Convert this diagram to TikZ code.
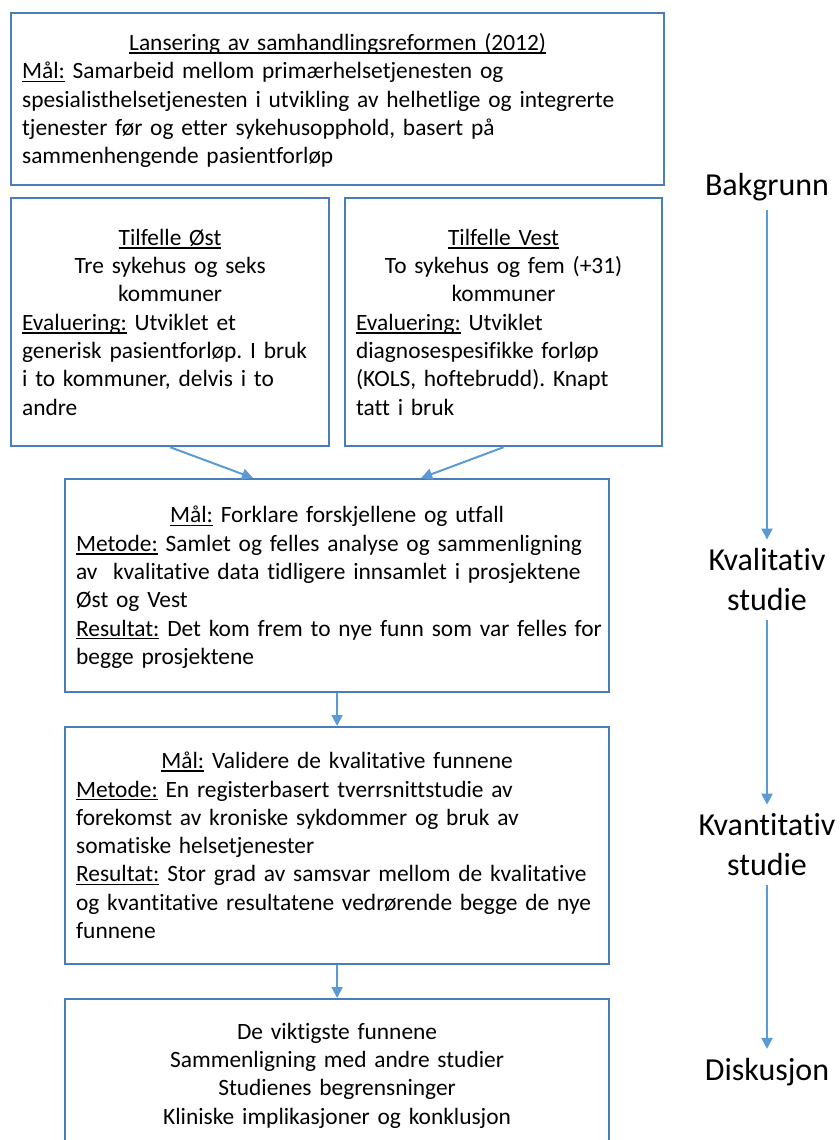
\documentclass[tikz,border=0pt]{standalone}
\usepackage{fontspec}
\setmainfont{Carlito}[Ligatures=NoCommon]
\usepackage{xcolor}
\usepackage{tikz}
\usetikzlibrary{arrows.meta}

\definecolor{boxblue}{HTML}{4A7EBB}
\definecolor{arrblue}{HTML}{5B9BD5}
\setlength{\parindent}{0pt}
\frenchspacing
\newcommand{\ulm}[1]{\leavevmode\sbox0{#1}\rlap{\rule[-3.4pt]{\wd0}{1.7pt}}\usebox0}
\newcommand{\venstre}{\raggedright\leftskip=11pt\relax}
\newcommand{\slutt}{\rule[-8pt]{0pt}{8pt}\par}

\begin{document}
\begin{tikzpicture}[x=1pt, y=-1pt,
	boks/.style={draw=boxblue, line width=2.2pt, fill=white, rectangle, anchor=north west,
		inner sep=0pt, font=\fontsize{23.4}{28.3}\selectfont,
		execute at begin node={\rule{0pt}{24pt}}},
	fase/.style={align=center, inner sep=9pt, font=\fontsize{32}{40}\selectfont},
	pil/.style={draw=arrblue, line width=2pt, -{Triangle[length=11pt, width=11pt]}}]
	\clip (0,0) rectangle (839,1140);

	% boksene til venstre
	\node[boks, minimum width=653pt, minimum height=172pt, text width=653pt] (reform) at (10,12)
		{\centering\ulm{Lansering av samhandlingsreformen (2012)}\par
		\venstre\ulm{Mål:} Samarbeid mellom primærhelsetjenesten og\\
		spesialisthelsetjenesten i utvikling av helhetlige og integrerte\\
		tjenester før og etter sykehusopphold, basert på\\
		sammenhengende pasientforløp\slutt};
	\node[boks, minimum width=318pt, minimum height=248pt, text width=318pt] (ost) at (10,197)
		{\centering\ulm{Tilfelle Øst}\\ Tre sykehus og seks\\ kommuner\par
		\venstre\ulm{Evaluering:} Utviklet et\\
		generisk pasientforløp. I bruk\\
		i to kommuner, delvis i to\\
		andre\slutt};
	\node[boks, minimum width=317pt, minimum height=248pt, text width=317pt] (vest) at (344,197)
		{\centering\ulm{Tilfelle Vest}\\ To sykehus og fem (+31)\\ kommuner\par
		\venstre\ulm{Evaluering:} Utviklet\\
		diagnosespesifikke forløp\\
		(KOLS, hoftebrudd). Knapt\\
		tatt i bruk\slutt};
	\node[boks, minimum width=544pt, minimum height=213pt, text width=544pt] (kval) at (64,478)
		{\centering\ulm{Mål:} Forklare forskjellene og utfall\par
		\venstre\ulm{Metode:} Samlet og felles analyse og sammenligning\\
		av\ \ kvalitative data tidligere innsamlet i prosjektene\\
		Øst og Vest\\
		\ulm{Resultat:} Det kom frem to nye funn som var felles for\\
		begge prosjektene\slutt};
	\node[boks, minimum width=544pt, minimum height=237pt, text width=544pt] (kvant) at (64,726)
		{\centering\ulm{Mål:} Validere de kvalitative funnene\par
		\venstre\ulm{Metode:} En registerbasert tverrsnittstudie av\\
		forekomst av kroniske sykdommer og bruk av\\
		somatiske helsetjenester\\
		\ulm{Resultat:} Stor grad av samsvar mellom de kvalitative\\
		og kvantitative resultatene vedrørende begge de nye\\
		funnene\slutt};
	\node[boks, minimum width=544pt, minimum height=149pt, text width=544pt] (disk) at (64,998)
		{\centering De viktigste funnene\\
		Sammenligning med andre studier\\
		Studienes begrensninger\\
		Kliniske implikasjoner og konklusjon\slutt};

	\draw[pil] (ost.south) -- (kval.128);
	\draw[pil] (vest.south) -- (kval.52);
	\draw[pil] (kval.south) -- (kvant.north);
	\draw[pil] (kvant.south) -- (disk.north);

	% fasene til hoyre
	\node[fase] (bakgrunn) at (767,187) {Bakgrunn};
	\node[fase] (kvalitativ) at (767,580) {Kvalitativ\\ studie};
	\node[fase] (kvantitativ) at (767,845) {Kvantitativ\\ studie};
	\node[fase] (diskusjon) at (767,1072) {Diskusjon};

	\draw[pil] (bakgrunn) -- (kvalitativ);
	\draw[pil] (kvalitativ) -- (kvantitativ);
	\draw[pil] (kvantitativ) -- (diskusjon);
\end{tikzpicture}
\end{document}
